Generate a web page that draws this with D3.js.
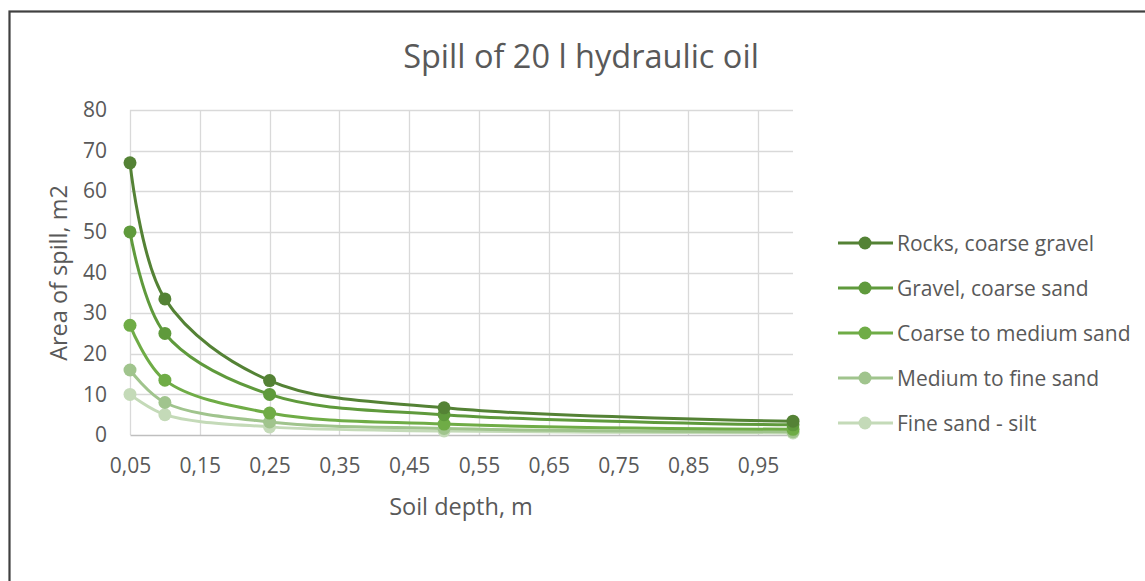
<!DOCTYPE html>
<html>
<head>
  <meta charset="utf-8">
  <title>Spill of 20 l hydraulic oil</title>
  <style>
    body { margin: 0; background: #fff; }
    svg text { font-family: "Open Sans", "Liberation Sans", sans-serif; fill: #595959; }
  </style>
</head>
<body>
  <div id="chart"></div>
  <script src="https://cdn.jsdelivr.net/npm/d3@7"></script>
  <script>
  // soil depth (m)
  var depths = [0.05, 0.1, 0.25, 0.5, 1.0];
  var seriesNames = ["Rocks, coarse gravel", "Gravel, coarse sand", "Coarse to medium sand", "Medium to fine sand", "Fine sand - silt"];
  // area of spill (m2)
  var rocks = [67, 33.5, 13.4, 6.7, 3.4];
  var gravel = [50, 25, 10, 5, 2.5];
  var coarse = [27, 13.5, 5.4, 2.7, 1.4];
  var medium = [16, 8, 3.2, 1.6, 0.8];
  var fine = [10, 5, 2, 1, 0.5];
  var xTicks = [0.05, 0.15, 0.25, 0.35, 0.45, 0.55, 0.65, 0.75, 0.85, 0.95];
  var yTicks = [0, 10, 20, 30, 40, 50, 60, 70, 80];

  var colors = ["#548235", "#5f9a3c", "#6fac46", "#a0c48d", "#c4dab8"];
  var allSeries = [rocks, gravel, coarse, medium, fine];

  var W = 1145, H = 581;
  var svg = d3.select("#chart").append("svg").attr("width", W).attr("height", H);

  // chart border (right and bottom edges fall outside the picture)
  svg.append("rect").attr("x", 9.5).attr("y", 11.5).attr("width", W + 10).attr("height", H + 10)
    .attr("fill", "#fff").attr("stroke", "#404040").attr("stroke-width", 2.2);

  var pLeft = 130, pRight = 793, pTop = 110, pBottom = 435;
  var x = d3.scaleLinear().domain([0.05, 1.0]).range([pLeft, pRight]);
  var y = d3.scaleLinear().domain([0, 80]).range([pBottom, pTop]);

  // grid
  svg.append("g").selectAll("line").data(yTicks.slice(1)).enter().append("line")
    .attr("x1", pLeft).attr("x2", pRight)
    .attr("y1", function(d){ return Math.round(y(d)) + 0.5; }).attr("y2", function(d){ return Math.round(y(d)) + 0.5; })
    .attr("stroke", "#d9d9d9").attr("stroke-width", 1.3);
  svg.append("g").selectAll("line").data(xTicks).enter().append("line")
    .attr("x1", function(d){ return Math.round(x(d)) + 0.5; }).attr("x2", function(d){ return Math.round(x(d)) + 0.5; })
    .attr("y1", pTop).attr("y2", pBottom)
    .attr("stroke", "#d9d9d9").attr("stroke-width", 1.3);

  // axes
  var xAxis = d3.axisBottom(x).tickValues(xTicks).tickSize(0).tickPadding(23)
    .tickFormat(function(d){ return d3.format(".2f")(d).replace(".", ","); });
  var gx = svg.append("g").attr("transform", "translate(0," + pBottom + ")").call(xAxis);
  gx.select(".domain").attr("stroke", "#bfbfbf").attr("stroke-width", 1.5);
  gx.selectAll("text").attr("font-size", 21).attr("fill", "#595959")
    .style("font-family", "'Open Sans', sans-serif");

  var yAxis = d3.axisLeft(y).tickValues(yTicks).tickSize(0).tickPadding(23);
  var gy = svg.append("g").attr("transform", "translate(" + pLeft + ",0)").call(yAxis);
  gy.select(".domain").remove();
  gy.selectAll("text").attr("font-size", 21).attr("fill", "#595959")
    .style("font-family", "'Open Sans', sans-serif");

  // series
  var line = d3.line()
    .x(function(d, i){ return x(depths[i]); })
    .y(function(d){ return y(d); })
    .curve(d3.curveCatmullRom.alpha(0.5));

  for (var s = allSeries.length - 1; s >= 0; s--) {
    var data = allSeries[s];
    svg.append("path").datum(data).attr("d", line)
      .attr("fill", "none").attr("stroke", colors[s]).attr("stroke-width", 3)
      .attr("stroke-linecap", "round");
    svg.append("g").selectAll("circle").data(data).enter().append("circle")
      .attr("cx", function(d, i){ return x(depths[i]); })
      .attr("cy", function(d){ return y(d); })
      .attr("r", 6.5)
      .attr("fill", colors[s]);
  }

  // title and axis titles
  svg.append("text").attr("x", 581).attr("y", 68).attr("text-anchor", "middle")
    .attr("font-size", 32.5).text("Spill of 20 l hydraulic oil");
  svg.append("text").attr("transform", "translate(67,273) rotate(-90)").attr("text-anchor", "middle")
    .attr("font-size", 23.5).text("Area of spill, m2");
  svg.append("text").attr("x", 461).attr("y", 515).attr("text-anchor", "middle")
    .attr("font-size", 23.5).text("Soil depth, m");

  // legend
  var legend = svg.append("g").selectAll("g").data(seriesNames).enter().append("g")
    .attr("transform", function(d, i){ return "translate(838," + (243 + i * 45) + ")"; });
  legend.append("line").attr("x1", 0).attr("x2", 55).attr("y1", 0).attr("y2", 0)
    .attr("stroke", function(d, i){ return colors[i]; }).attr("stroke-width", 3);
  legend.append("circle").attr("cx", 27).attr("cy", 0).attr("r", 6.5)
    .attr("fill", function(d, i){ return colors[i]; });
  legend.append("text").attr("x", 59).attr("y", 7.5).attr("font-size", 21)
    .text(function(d){ return d; });
  </script>
</body>
</html>
